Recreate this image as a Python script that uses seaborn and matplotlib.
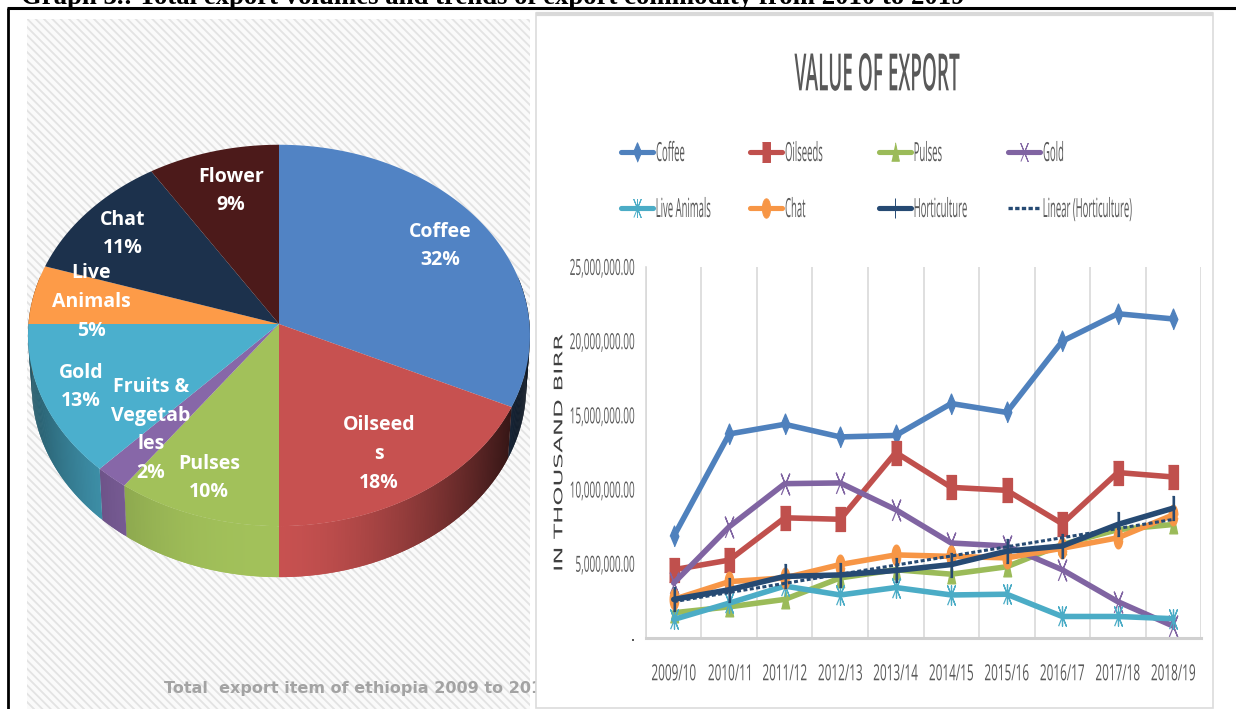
import numpy as np
import pandas as pd
import matplotlib
matplotlib.use("Agg")
import matplotlib.pyplot as plt
import matplotlib.colors as mcolors
import matplotlib.text as mtext
import seaborn as sns
from matplotlib.patches import Rectangle
from matplotlib.legend import Legend
from matplotlib.lines import Line2D
from matplotlib.textpath import TextPath
from matplotlib.transforms import Affine2D, Bbox

sns.set_theme(style="white")
plt.rcParams["hatch.linewidth"] = 1.3
plt.rcParams["hatch.color"] = "#e3e3e3"

# Share of export items
slice_labels = ["Coffee\n32%", "Oilseed\ns\n18%", "Pulses\n10%", "Fruits &\nVegetab\nles\n2%",
                "Gold\n13%", "Live\nAnimals\n5%", "Chat\n11%", "Flower\n9%"]
slice_values = [32, 18, 10, 2, 13, 5, 11, 9]
slice_colors = ["#5183c4", "#c75150", "#a2c15a", "#8767a8", "#4bafcd", "#fd9b48", "#1c314c", "#4c1a1a"]

# Export value per fiscal year
years = ["2009/10", "2010/11", "2011/12", "2012/13", "2013/14",
         "2014/15", "2015/16", "2016/17", "2017/18", "2018/19"]
coffee = [6850000, 13750000, 14400000, 13550000, 13650000, 15800000, 15200000, 20000000, 21850000, 21500000]
oilseeds = [4600000, 5250000, 8100000, 8000000, 12500000, 10150000, 9950000, 7700000, 11150000, 10850000]
pulses = [1700000, 2100000, 2600000, 4050000, 4600000, 4300000, 4800000, 6300000, 7300000, 7650000]
gold = [3700000, 7500000, 10400000, 10450000, 8650000, 6400000, 6200000, 4600000, 2450000, 800000]
live_animals = [1250000, 2350000, 3500000, 2900000, 3400000, 2900000, 2950000, 1450000, 1450000, 1300000]
chat = [2600000, 3800000, 4050000, 4950000, 5600000, 5500000, 5400000, 6050000, 6750000, 8300000]
horticulture = [2600000, 3250000, 4150000, 4250000, 4550000, 4950000, 5850000, 6200000, 7650000, 8750000]

series_names = ["Coffee", "Oilseeds", "Pulses", "Gold", "Live Animals", "Chat", "Horticulture"]
series_values = [coffee, oilseeds, pulses, gold, live_animals, chat, horticulture]
series_colors = ["#4f81bd", "#c0504d", "#9bbb59", "#8064a2", "#4bacc6", "#f79646", "#264a73"]

W, H = 1236, 709
UI = ["Open Sans", "DejaVu Sans"]


class StretchedText(mtext.Text):
    """Text whose glyphs are scaled along the writing direction."""

    stretch_x = 1.0
    target_length = None

    def _glyph_path(self):
        size = self.get_fontsize() * self.figure.dpi / 72
        prop = self.get_fontproperties()
        path = TextPath((0, 0), self.get_text(), size=size, prop=prop)
        cap = TextPath((0, 0), "H", size=size, prop=prop).get_extents().y1
        return path, path.get_extents(), cap

    def _scale(self, box):
        return self.target_length / box.width if self.target_length else self.stretch_x

    def _glyph_layout(self):
        path, box, cap = self._glyph_path()
        sx = self._scale(box)
        ha, va = self.get_ha(), self.get_va()
        dx = {"left": -box.x0, "right": -box.x1}.get(ha, -(box.x0 + box.x1) / 2) * sx
        dy = {"top": -cap, "center": -cap / 2, "center_baseline": -cap / 2}.get(va, 0)
        anchor = self.get_transform().transform(self.get_unitless_position())
        tf = Affine2D().scale(sx, 1).translate(dx, dy).rotate_deg(self.get_rotation()).translate(*anchor)
        return path, tf

    def _get_layout(self, renderer):
        bbox, info, descent = super()._get_layout(renderer)
        if not self.get_text():
            return bbox, info, descent
        sx = self._scale(self._glyph_path()[1])
        if self.get_rotation() == 90:
            bbox = Bbox.from_bounds(bbox.x0, bbox.y0 * sx, bbox.width, bbox.height * sx)
        else:
            bbox = Bbox.from_bounds(bbox.x0 * sx, bbox.y0, bbox.width * sx, bbox.height)
        return bbox, info, descent

    def draw(self, renderer):
        if not self.get_visible() or not self.get_text():
            return
        path, tf = self._glyph_layout()
        gc = renderer.new_gc()
        gc.set_alpha(1.0)
        gc.set_linewidth(0)
        gc.set_antialiased(True)
        clip = self.get_clip_box() if self.get_clip_on() else None
        if clip is not None:
            gc.set_clip_rectangle(clip)
        renderer.draw_path(gc, path, tf, rgbFace=mcolors.to_rgb(self.get_color()))
        gc.restore()

    def get_window_extent(self, renderer=None, dpi=None):
        if not self.get_text():
            return super().get_window_extent(renderer, dpi)
        path, tf = self._glyph_layout()
        return Bbox(path.transformed(tf).get_extents().get_points())


def stretch(artist, sx=1.0, length=None):
    artist.__class__ = StretchedText
    artist.stretch_x = sx
    artist.target_length = length
    return artist


fig = plt.figure(figsize=(W / 100, H / 100), dpi=100, facecolor="white")

# Sheet-wide layer measured in pixels
sheet = fig.add_axes([0, 0, 1, 1])
sheet.set_xlim(0, W)
sheet.set_ylim(H, 0)
sheet.axis("off")

sheet.text(21, 3.5, "Graph 3.: Total export volumes and trends of export commodity from 2010 to 2019",
           family=["Liberation Serif"], weight="bold", fontsize=19.3, color="black", ha="left", va="baseline",
           clip_on=False)
sheet.plot([7, W], [8, 8], color="black", lw=2.2, solid_capstyle="butt")
sheet.plot([7.5, 7.5], [8, H], color="black", lw=2, solid_capstyle="butt")

# Hatched backdrop behind the pie
backdrop = Rectangle((27, 19), 503, H - 19, facecolor="#fafafa", edgecolor="none")
sheet.add_patch(backdrop)
sheet.add_patch(Rectangle((27, 19), 503, H - 19, facecolor="none", edgecolor="#e3e3e3",
                          hatch="\\" * 4, lw=0))

# Perspective disc: the top of the pie recedes slightly from the viewer
CX, CY, AX, BY, K, DEPTH = 279, 324, 250.5, 190, 0.06, 51


def project(theta, lower=False):
    x, y = np.sin(theta), np.cos(theta)
    w = 1 + K * y
    px = AX * x / w
    py = -BY * y / w
    if lower:
        return CX + px * 0.985, CY + py + DEPTH
    return CX + px, CY + py


def shade(color, u):
    factor = 1 - 0.85 * u ** 1.6 if u > 0 else 1 - 0.5 * abs(u) ** 2.6
    return tuple(np.array(mcolors.to_rgb(color)) * factor)


edges = np.cumsum([0] + slice_values) / sum(slice_values) * 2 * np.pi

# Outer wall, drawn as narrow shaded strips
for start, stop, color in zip(edges[:-1], edges[1:], slice_colors):
    thetas = np.linspace(start, stop, max(int(np.degrees(stop - start) * 2), 2) + 1)
    for a, b in zip(thetas[:-1], thetas[1:]):
        if np.cos((a + b) / 2) > 0.25:
            continue
        b2 = min(b + np.radians(0.5), stop)
        xa, ya = project(a)
        xb, yb = project(b2)
        xc, yc = project(b2, True)
        xd, yd = project(a, True)
        sheet.fill([xa, xb, xc, xd], [ya, yb, yc, yd], color=shade(color, np.sin((a + b) / 2)), lw=0, zorder=2)

# Top face
for start, stop, color in zip(edges[:-1], edges[1:], slice_colors):
    thetas = np.linspace(start, stop, 120)
    xs, ys = project(thetas)
    sheet.fill(np.r_[CX, xs], np.r_[CY, ys], color=color, lw=0, zorder=3)

label_spots = [(440, 246), (379, 454), (209, 478), (151, 430), (81, 387), (91, 302), (123, 234), (231, 191)]
for (lx, ly), text in zip(label_spots, slice_labels):
    sheet.text(lx, ly, text, color="white", weight="bold", family=UI, fontsize=14,
               ha="center", va="center", linespacing=1.58, zorder=5)

caption = sheet.text(164, 688, "Total  export item of ethiopia 2009 to 2019", color="#a3a3a3", weight="bold",
                     family=["DejaVu Sans"], fontsize=11.5, ha="left", va="center", zorder=5)
caption.set_clip_path(backdrop)

# White panel holding the line chart
sheet.add_patch(Rectangle((535.5, 13), 677.5, H - 13 - 1.5, facecolor="white", edgecolor="#dcdcdc",
                          lw=1.2, zorder=6))
sheet.plot([536, 1213], [13.5, 13.5], color="#d9d9d9", lw=3, zorder=7, solid_capstyle="butt")

stretch(sheet.text(877, 72, "VALUE OF EXPORT", color="#595959", family=UI, weight="semibold", fontsize=37,
                   ha="center", va="center", zorder=7), length=165)
stretch(sheet.text(558, 452, "IN THOUSAND BIRR", color="#404040", family=["DejaVu Sans"], fontsize=8.5,
                   rotation=90, rotation_mode="anchor", ha="center", va="center", zorder=7), length=235)

# Line chart
left, right, top, bottom = 646, 1201, 267, 638
ax = fig.add_axes([left / W, 1 - bottom / H, (right - left) / W, (bottom - top) / H], zorder=8)
ax.patch.set_alpha(0)

idx = np.arange(len(years))
frame = pd.DataFrame({"pos": np.tile(idx, len(series_names)),
                      "value": np.concatenate(series_values),
                      "series": np.repeat(series_names, len(years))})

tall_square = [(-0.4, -1), (0.4, -1), (0.4, 1), (-0.4, 1)]
tall_tri = [(-0.4, -0.9), (0.4, -0.9), (0, 1)]
tall_diamond = [(-0.42, 0), (0, 1), (0.42, 0), (0, -1)]
tall_oval = [(0.42 * np.cos(t), np.sin(t)) for t in np.linspace(0, 2 * np.pi, 28, endpoint=False)]
tall_cross = [(-0.4, -1), (0, 0), (0.4, -1), (0, 0), (0.4, 1), (0, 0), (-0.4, 1), (0, 0)]
tall_star = tall_cross + [(0, 1), (0, 0), (0, -1), (0, 0)]
tall_bar = [(-0.05, -1), (0.05, -1), (0.05, 1), (-0.05, 1)]

series_markers = [tall_diamond, tall_square, tall_tri, tall_cross, tall_star, tall_oval, tall_bar]
marker_sizes = [15, 17, 15, 15, 14, 15, 17]
legend_sizes = [14, 14, 14, 13, 13, 14, 14]

for name, color, marker, ms in zip(series_names, series_colors, series_markers, marker_sizes):
    sns.lineplot(data=frame[frame["series"] == name], x="pos", y="value", ax=ax, color=color,
                 lw=4.0, marker=marker, markersize=ms, markeredgecolor=color, markerfacecolor=color,
                 markeredgewidth=0.9, legend=False, errorbar=None, sort=False, clip_on=False,
                 solid_joinstyle="round")

# Linear trend of the horticulture series
sns.regplot(x=idx.astype(float), y=np.array(horticulture, dtype=float), ax=ax, scatter=False, ci=None,
            truncate=True, color="#264a73", line_kws={"lw": 2.2, "ls": (0, (1.3, 0.8)), "zorder": 4})

ax.set_xlim(-0.5, 9.5)
ax.set_ylim(0, 25000000)
ax.set_xticks(idx)
ax.set_xticklabels(years)
ax.set_yticks(np.arange(0, 25000001, 5000000))
ax.set_yticklabels(["-"] + [f"{v:,.2f}" for v in np.arange(5000000, 25000001, 5000000)])
ax.set_xlabel("")
ax.set_ylabel("")
for x in np.arange(-0.5, 9.6, 1):
    ax.axvline(x, color="#d9d9d9", lw=1.2, zorder=0)
for spine in ["top", "right"]:
    ax.spines[spine].set_visible(False)
ax.spines["left"].set_color("#d9d9d9")
ax.spines["bottom"].set_color("#d0d0d0")
ax.spines["left"].set_linewidth(1.2)
ax.spines["bottom"].set_linewidth(2.2)
ax.tick_params(axis="x", length=0, pad=19, labelcolor="#595959", labelsize=16)
ax.tick_params(axis="y", length=0, pad=8.5, labelcolor="#595959", labelsize=16)
for lab in ax.get_xticklabels():
    lab.set_family(UI)
    stretch(lab, 0.53)
for lab in ax.get_yticklabels():
    lab.set_family(UI)
    stretch(lab, 0.45)

# Hand-placed legend entries, two evenly spaced rows of four
handles = [Line2D([], [], color=c, lw=3.7, marker=m, markersize=s, markerfacecolor=c,
                  markeredgecolor=c, markeredgewidth=0.7)
           for c, m, s in zip(series_colors, series_markers, legend_sizes)]
handles.append(Line2D([], [], color="#264a73", lw=2.4, ls=(0, (1.3, 0.7))))
names = series_names + ["Linear (Horticulture)"]
spots = [(621, 154.5), (750, 154.5), (879, 154.5), (1008, 154.5),
         (621, 210.5), (750, 210.5), (879, 210.5), (1008, 210.5)]
for handle, name, (px, py) in zip(handles, names, spots):
    leg = Legend(ax, [handle], [name], loc="center left", bbox_to_anchor=(px / W, 1 - py / H),
                 bbox_transform=fig.transFigure, frameon=False, numpoints=1, handlelength=1.23,
                 handletextpad=0.12, borderpad=0, borderaxespad=0, prop={"family": UI, "size": 19},
                 labelcolor="#595959")
    for t in leg.get_texts():
        stretch(t, 0.36)
    ax.add_artist(leg)

fig.savefig("out.png", dpi=100)
